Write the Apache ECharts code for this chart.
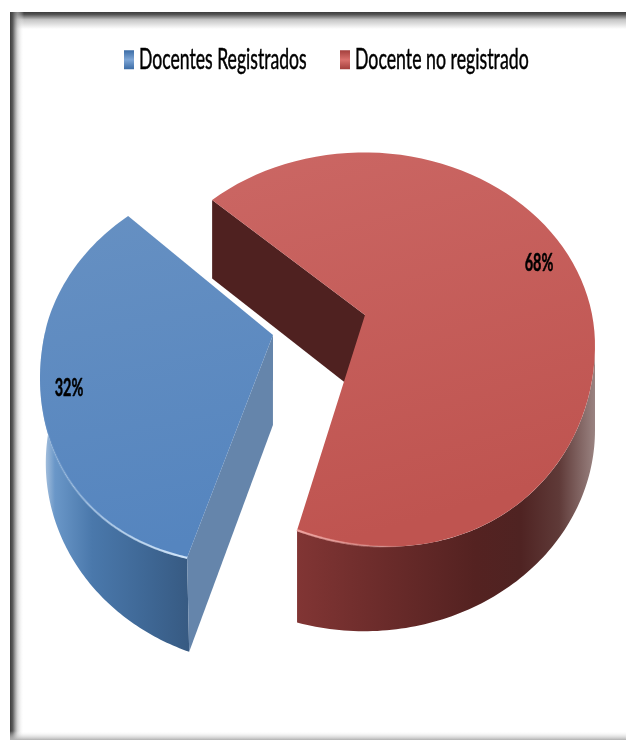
<!DOCTYPE html>
<html><head><meta charset="utf-8">
<script src="https://cdn.jsdelivr.net/npm/echarts@6/dist/echarts.min.js"></script>
<style>html,body{margin:0;padding:0;background:#fff}#c{width:626px;height:740px}</style>
</head><body><div id="c"></div>
<script>
const categories = ['Docentes Registrados', 'Docente no registrado'];
const percents = [32, 68];

// Drawing geometry (screen layout of the tilted pie, not data)
const legendLeft = [124, 340];
const legendTextWidth = [168, 174];
const FONT = 'Lato,"Open Sans",sans-serif';
const layout = [
  { cx:271, cy:372.4, rx:231, ry:199, start:201.3, sweepK:1.046, apex:[273,335], d0:84, dk:0.018, bk:0.975,
    bumpA:11, bumpRange:[201.3,285],
    label:[69,388],
    top:['#6690c2','#5585bf'], wall:['#c4d5e8','#6a97c8','#4a78ab','#3f6896','#375a82'], wStops:[0,0.1,0.35,0.7,1],
    flat:'#6585ab', rim:'#d8ecff', rimRange:[201.3,262], legend:['#3b6ca6','#7ea6d6','#3b6ca6'] },
  { cx:364, cy:345.4, rx:231, ry:193, start:-41.1, sweepK:0.972, apex:[365,315], d0:70, dk:0.0424, bk:1,
    bumpA:15, bumpRange:[90,196.9],
    label:[539,263],
    top:['#cb6764','#bf5450'], wall:['#813534','#6a2b2a','#542221','#4f2322','#5f3a38','#9a8381'], wStops:[0,0.3,0.6,0.75,0.88,1],
    flat:'#4f2120', rim:'#f2a9a5', rimRange:[172,196.9], legend:['#a33f3c','#d9716d','#a33f3c'] }
];

const chart = echarts.init(document.getElementById('c'));

function pt(L, deg, bumped){
  const t = deg*Math.PI/180;
  let y = L.cy - L.ry*Math.cos(t);
  if (bumped && deg>=L.bumpRange[0] && deg<=L.bumpRange[1]) {
    y += L.bumpA*Math.sin(Math.PI*(deg-L.bumpRange[0])/(L.bumpRange[1]-L.bumpRange[0]));
  }
  return [L.cx + L.rx*Math.sin(t), y];
}
function drop(L, p){
  return [L.cx + (p[0]-L.cx)*L.bk, p[1] + L.d0 + L.dk*p[1]];
}
function arc(L, a, b, bumped){
  const out = [], n = 90;
  for (let i=0;i<=n;i++) out.push(pt(L, a+(b-a)*i/n, bumped));
  return out;
}
function hgrad(cols, stops){
  return new echarts.graphic.LinearGradient(0,0,1,0, cols.map((c,i)=>({offset:stops[i],color:c})));
}

function sliceRender(idx){
  return function(params, api){
    const L = layout[idx];
    const val = api.value(0);
    const a0 = L.start, a1 = L.start + val*3.6*L.sweepK;
    const rimEdge = arc(L, a0, a1, true);
    const children = [];
    const visA = idx===0 ? a0 : 90;
    const visB = idx===0 ? 282 : a1;
    const topA = arc(L, visA, visB, true);
    const botA = arc(L, visA, visB, false).map(p=>drop(L,p)).reverse();
    children.push({type:'polygon', shape:{points:topA.concat(botA)},
      style:{fill:hgrad(L.wall,L.wStops)}});
    const apex = L.apex;
    const cutEnd = rimEdge[0];
    children.push({type:'polygon', shape:{points:[apex, cutEnd, drop(L,cutEnd), drop(L,apex)]}, style:{fill:L.flat}});
    children.push({type:'polygon', shape:{points:[apex].concat(rimEdge)},
      style:{fill:new echarts.graphic.LinearGradient(0,0,0.3,1,[{offset:0,color:L.top[0]},{offset:1,color:L.top[1]}])}});
    const r0 = arc(L, L.rimRange[0], L.rimRange[1], true);
    const rc = echarts.color.modifyAlpha;
    children.push({type:'polyline', shape:{points:r0},
      style:{fill:'none', lineWidth:2.2, stroke:new echarts.graphic.LinearGradient(
        idx===0?1:0,0,idx===0?0:1,0,[
        {offset:0,color:rc(L.rim,0.95)},{offset:0.55,color:rc(L.rim,0.55)},{offset:1,color:rc(L.rim,0)}])}});
    children.push({type:'text', x:L.label[0], y:L.label[1], scaleX:0.58,
      style:{x:0, y:0, text:val+'%', fill:'#000', stroke:'#000', lineWidth:0.5,
      font:'bold 25px '+FONT, align:'center', verticalAlign:'middle'}});
    return {type:'group', children};
  };
}

const frameColor = '#3c3c3c';
const option = {
  animation:false,
  backgroundColor:'#ffffff',
  legend:[0,1].map(i=>({
    data:[{name:categories[i], itemStyle:{color:new echarts.graphic.LinearGradient(0,0,0,1,[
      {offset:0,color:layout[i].legend[0]},{offset:0.5,color:layout[i].legend[1]},{offset:1,color:layout[i].legend[2]}])}}],
    top:45, left:legendLeft[i], padding:0, icon:'rect', itemWidth:10, itemHeight:19, selectedMode:false,
    textStyle:{color:'#000', fontFamily:FONT, fontSize:29, textBorderColor:'#000', textBorderWidth:0.5}
  })),
  series:[0,1].map(i=>({
    type:'custom', name:categories[i], coordinateSystem:'none',
    itemStyle:{color:layout[i].legend[1]},
    data:[[percents[i]]], renderItem:sliceRender(i), clip:false, silent:true
  })),
  graphic:[
    {type:'rect', z:-1, shape:{x:10,y:12,width:616,height:17},
     style:{fill:new echarts.graphic.LinearGradient(0,0,0,1,[{offset:0,color:frameColor},{offset:0.15,color:'#555'},{offset:0.45,color:'#c4c4c4'},{offset:1,color:'#ffffff'}])}},
    {type:'rect', z:-1, shape:{x:10,y:12,width:14,height:728},
     style:{fill:new echarts.graphic.LinearGradient(0,0,1,0,[{offset:0,color:frameColor},{offset:0.2,color:'rgba(85,85,85,0.95)'},{offset:0.55,color:'rgba(190,190,190,0.6)'},{offset:1,color:'rgba(255,255,255,0)'}])}},
    {type:'rect', z:-1, shape:{x:10,y:731,width:616,height:9},
     style:{fill:new echarts.graphic.LinearGradient(0,0,0,1,[{offset:0,color:'rgba(255,255,255,0)'},{offset:1,color:'#b0b0b0'}])}}
  ]
};
chart.setOption(option);

// Calibri-like condensed look: narrow the legend's own text horizontally
const zr = chart.getZr();
zr.storage.traverse(function(el){
  if (el.type === 'text' && el.style) {
    const i = categories.indexOf(el.style.text);
    if (i >= 0) {
      const w = el.getBoundingRect().width;
      el.originX = el.style.x || 0;
      el.scaleX = legendTextWidth[i] / w;
      el.markRedraw();
    }
  }
});
zr.refreshImmediately();
</script></body></html>
